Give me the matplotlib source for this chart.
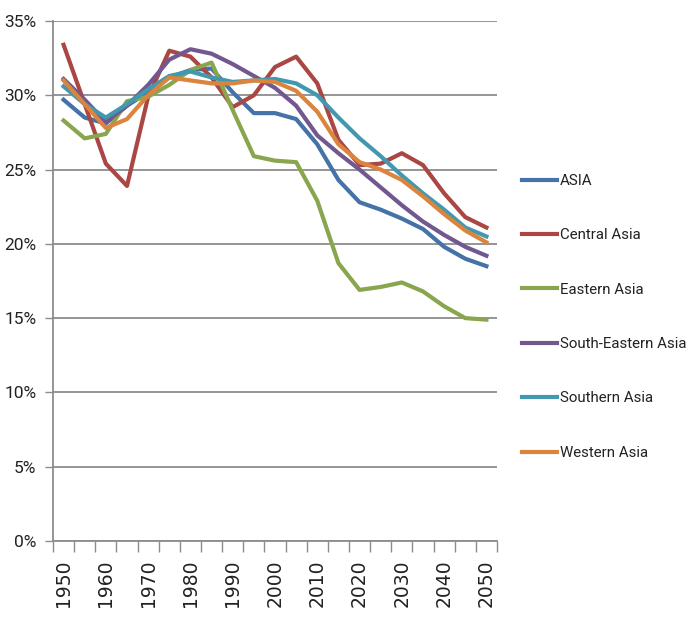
import numpy as np
import matplotlib
matplotlib.use("Agg")
import matplotlib.pyplot as plt

years = list(range(1950, 2051, 5))

asia = [29.7, 28.5, 28.1, 29.3, 30.2, 31.2, 31.7, 31.8, 30.2, 28.8, 28.8,
        28.4, 26.7, 24.3, 22.8, 22.3, 21.7, 21.0, 19.8, 19.0, 18.5]
central = [33.4, 29.4, 25.4, 23.9, 29.9, 33.0, 32.6, 31.2, 29.2, 30.0, 31.9,
           32.6, 30.8, 27.0, 25.3, 25.4, 26.1, 25.3, 23.4, 21.8, 21.1]
eastern = [28.3, 27.1, 27.4, 29.6, 29.9, 30.7, 31.7, 32.2, 29.0, 25.9, 25.6,
           25.5, 22.9, 18.7, 16.9, 17.1, 17.4, 16.8, 15.8, 15.0, 14.9]
south_eastern = [31.1, 29.7, 28.2, 29.3, 30.7, 32.4, 33.1, 32.8, 32.1, 31.3, 30.5,
                 29.3, 27.3, 26.1, 25.0, 23.8, 22.6, 21.5, 20.6, 19.8, 19.2]
southern = [30.6, 29.4, 28.5, 29.4, 30.4, 31.3, 31.6, 31.2, 30.9, 31.0, 31.1,
            30.8, 30.0, 28.5, 27.1, 25.9, 24.6, 23.4, 22.3, 21.1, 20.5]
western = [31.0, 29.4, 27.8, 28.4, 30.0, 31.2, 31.0, 30.8, 30.8, 31.0, 30.9,
           30.3, 28.9, 26.7, 25.5, 25.0, 24.3, 23.2, 22.0, 20.9, 20.1]

names = ["ASIA", "Central Asia", "Eastern Asia", "South-Eastern Asia",
         "Southern Asia", "Western Asia"]
series = [asia, central, eastern, south_eastern, southern, western]
colors = ["#4572A7", "#AA4643", "#89A54E", "#71588F", "#4198AF", "#DB843D"]

narrow = ['Roboto', 'DejaVu Sans']
gray = '#8c8c8c'

fig = plt.figure(figsize=(6.92, 6.24), dpi=100)
ax = fig.add_axes([53/692, 1-541/624, (497-53)/692, (541-21)/624])

x = np.arange(len(years))
for vals, name, c in zip(series, names, colors):
    ax.plot(x, vals, color=c, lw=3.0, label=name)

ax.set_xlim(-0.5, len(years) - 0.5)
ax.set_ylim(0, 35)
ax.set_yticks(range(0, 36, 5))
ax.set_yticklabels([f"{v}%" for v in range(0, 36, 5)], family=narrow, fontsize=12.5,
                   color='#222222')
ax.yaxis.grid(True, color=gray, lw=1.3)
ax.set_axisbelow(True)

# tick marks sit between categories, labels every 10 years
ax.set_xticks(np.arange(-0.5, len(years), 1.0))
ax.set_xticklabels([])
ax.tick_params(axis='x', which='major', length=8, color=gray, width=1)
ax.set_xticks(x[::2], minor=True)
ax.set_xticklabels([str(y) for y in years[::2]], minor=True, rotation=90,
                   fontsize=13.5, family='DejaVu Sans', color='#222222')
ax.tick_params(axis='x', which='minor', length=0, pad=13.5)
ax.tick_params(axis='y', length=6, color=gray, width=1, pad=6)

for s in ['top', 'right']:
    ax.spines[s].set_visible(False)
for s in ['left', 'bottom']:
    ax.spines[s].set_color(gray)
    ax.spines[s].set_linewidth(1.3)

leg = fig.legend(loc='upper left', bbox_to_anchor=(522/692, 1-174/624), frameon=False,
                 prop={'family': narrow, 'size': 10.8}, handlelength=2.35,
                 handletextpad=0.2, labelspacing=2.69, borderaxespad=0, borderpad=0)
for t in leg.get_texts():
    t.set_color('#222222')

fig.savefig("out.png", dpi=100)
